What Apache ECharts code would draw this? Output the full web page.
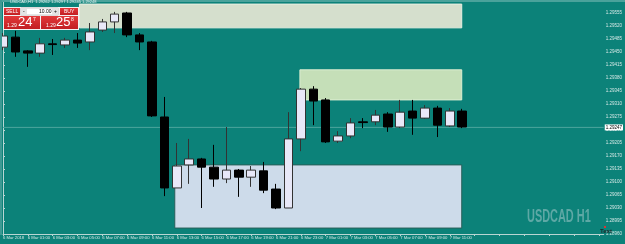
<!DOCTYPE html>
<html>
<head>
<meta charset="utf-8">
<script src="https://cdn.jsdelivr.net/npm/echarts@6/dist/echarts.min.js"></script>
<style>
  html, body { margin: 0; padding: 0; background: #0C8279; }
  #main { width: 625px; height: 244px; }
</style>
</head>
<body>
<div id="main"></div>
<script>
// подписи оси времени (каждая вторая свеча)
const tickLabels = ['6 Mar 2018', '6 Mar 01:00', '6 Mar 03:00', '6 Mar 05:00', '6 Mar 07:00',
  '6 Mar 09:00', '6 Mar 11:00', '6 Mar 13:00', '6 Mar 15:00', '6 Mar 17:00', '6 Mar 19:00',
  '6 Mar 21:00', '6 Mar 23:00', '7 Mar 01:00', '7 Mar 03:00', '7 Mar 05:00', '7 Mar 07:00',
  '7 Mar 09:00', '7 Mar 11:00'];

// свечи USDCAD H1
const opens = [1.29463, 1.29490, 1.29453, 1.29447, 1.29472, 1.29469, 1.29482, 1.29477, 1.29509, 1.29531,
  1.29555, 1.29496, 1.29477, 1.29275, 1.29084, 1.29146, 1.29162, 1.29140, 1.29108, 1.29132,
  1.29113, 1.29130, 1.29081, 1.29030, 1.29216, 1.29350, 1.29321, 1.29210, 1.29224, 1.29262,
  1.29262, 1.29283, 1.29248, 1.29291, 1.29272, 1.29299, 1.29251, 1.29291];
const closes = [1.29493, 1.29450, 1.29447, 1.29472, 1.29470, 1.29482, 1.29474, 1.29504, 1.29531, 1.29552,
  1.29496, 1.29477, 1.29278, 1.29084, 1.29143, 1.29162, 1.29140, 1.29108, 1.29132, 1.29113,
  1.29132, 1.29078, 1.29030, 1.29216, 1.29350, 1.29318, 1.29208, 1.29224, 1.29259, 1.29260,
  1.29280, 1.29248, 1.29288, 1.29272, 1.29299, 1.29253, 1.29291, 1.29248];
const lows = [1.29455, 1.29437, 1.29410, 1.29437, 1.29442, 1.29461, 1.29461, 1.29455, 1.29504, 1.29501,
  1.29490, 1.29455, 1.29275, 1.29062, 1.29084, 1.29095, 1.29030, 1.29087, 1.29097, 1.29060,
  1.29087, 1.29070, 1.29027, 1.29030, 1.29183, 1.29253, 1.29205, 1.29205, 1.29218, 1.29245,
  1.29253, 1.29235, 1.29245, 1.29227, 1.29270, 1.29221, 1.29248, 1.29245];
const highs = [1.29501, 1.29507, 1.29455, 1.29488, 1.29485, 1.29488, 1.29501, 1.29528, 1.29539, 1.29558,
  1.29558, 1.29501, 1.29480, 1.29329, 1.29205, 1.29216, 1.29165, 1.29200, 1.29248, 1.29135,
  1.29143, 1.29154, 1.29095, 1.29288, 1.29353, 1.29358, 1.29326, 1.29237, 1.29272, 1.29272,
  1.29294, 1.29288, 1.29321, 1.29321, 1.29307, 1.29305, 1.29299, 1.29297];

// прямоугольники-зоны (в единицах свечей и цены)
const zoneStart = [6.16, 23.92, 13.84];
const zoneEnd = [36.96, 36.96, 36.96];
const zoneTop = [1.29579, 1.29402, 1.29146];
const zoneBottom = [1.29515, 1.29321, 1.28976];
const zoneFill = ['#D5DFCD', '#C5DFB8', '#CDDBEA'];
const zoneStroke = ['#E9EFE2', '#DCEED2', '#2A5F5A'];

const bid = 1.29247;

let candles = [];
opens.forEach((o, i) => {
  candles.push([i, o, closes[i], lows[i], highs[i]]);
});
let zones = [];
zoneStart.forEach((x, i) => {
  zones.push([x, zoneEnd[i], zoneTop[i], zoneBottom[i]]);
});

let chart = echarts.init(document.getElementById('main'));

const red = {
  type: 'linear', x: 0, y: 0, x2: 0, y2: 1,
  colorStops: [{offset: 0, color: '#E2393A'}, {offset: 1, color: '#C21E22'}]
};

const option = {
  backgroundColor: '#0C8279',
  animation: false,
  grid: {left: 3, right: 17, top: 2, bottom: 10},
  xAxis: {
    type: 'value',
    min: 0,
    max: 48.4,
    interval: 2,
    splitLine: {show: false},
    axisLine: {lineStyle: {color: '#B9D6D3', width: 1}},
    axisTick: {show: true, length: 2, lineStyle: {color: '#B9D6D3'}},
    axisLabel: {
      showMinLabel: true,
      showMaxLabel: false,
      hideOverlap: false,
      align: 'left',
      margin: 2,
      fontSize: 4.2,
      fontFamily: 'Liberation Sans',
      color: '#D6E8E6',
      formatter: v => tickLabels[Math.round(v / 2)] || ''
    }
  },
  yAxis: {
    type: 'value',
    position: 'right',
    min: 1.28960,
    max: 1.295846,
    interval: 0.00035,
    scale: true,
    splitLine: {show: false},
    axisLine: {show: true, lineStyle: {color: '#B9D6D3', width: 1}},
    axisTick: {show: true, length: 2, lineStyle: {color: '#B9D6D3'}},
    axisLabel: {
      showMaxLabel: false,
      margin: 2,
      fontSize: 4.5,
      fontFamily: 'Liberation Sans',
      color: '#D6E8E6',
      formatter: v => v.toFixed(5)
    }
  },
  series: [
    {
      type: 'custom',
      z: 1,
      silent: true,
      data: zones,
      encode: {x: [0, 1], y: [2, 3]},
      renderItem: (params, api) => {
        const p0 = api.coord([api.value(0), api.value(2)]);
        const p1 = api.coord([api.value(1), api.value(3)]);
        return {
          type: 'rect',
          shape: {x: p0[0], y: p0[1], width: p1[0] - p0[0], height: p1[1] - p0[1]},
          style: {fill: zoneFill[params.dataIndex], stroke: zoneStroke[params.dataIndex], lineWidth: 1}
        };
      }
    },
    {
      // линия текущей цены bid
      type: 'line',
      z: 2,
      silent: true,
      symbol: 'none',
      data: [[0, bid], [48.4, bid]],
      lineStyle: {color: '#4CA59D', width: 1},
      endLabel: {
        show: true,
        distance: 1,
        formatter: bid.toFixed(5),
        backgroundColor: '#FFFFFF',
        color: '#000',
        fontSize: 4.5,
        fontFamily: 'Liberation Sans',
        padding: [1, 1, 0, 1]
      }
    },
    {
      type: 'candlestick',
      z: 3,
      clip: false,
      barWidth: 9,
      data: candles,
      encode: {x: 0, y: [1, 2, 3, 4]},
      itemStyle: {
        color: '#E8E8F8',
        color0: '#000000',
        borderColor: '#333333',
        borderColor0: '#000000',
        borderColorDoji: '#000000',
        borderWidth: 1
      }
    }
  ],
  graphic: [
    {type: 'rect', left: 0, top: 0, shape: {width: 625, height: 2}, style: {fill: '#4AA29B'}, z: 10},
    {type: 'rect', left: 0, top: 0, shape: {width: 2, height: 235}, style: {fill: '#3E9A93'}, z: 10},
    {type: 'text', left: 10, top: 0, z: 11,
      style: {text: 'USDCAD,H1  1.29262 1.29297 1.29245 1.29248', fill: '#E8F2F1', font: '4px Liberation Sans'}},
    // панель торговли в один клик
    {type: 'rect', shape: {x: 3, y: 7, width: 76, height: 23}, style: {fill: '#F2F2F2'}, z: 10},
    {type: 'rect', shape: {x: 4, y: 8, width: 16, height: 7}, style: {fill: red}, z: 11},
    {type: 'text', x: 6, y: 9, z: 12, style: {text: 'SELL', fill: '#fff', font: '5px Liberation Sans'}},
    {type: 'rect', shape: {x: 21, y: 8, width: 37, height: 7}, style: {fill: '#FFFFFF', stroke: '#999', lineWidth: 0.5}, z: 11},
    {type: 'rect', shape: {x: 21, y: 8, width: 6, height: 7}, style: {fill: '#E4E4E4'}, z: 11},
    {type: 'rect', shape: {x: 52, y: 8, width: 6, height: 7}, style: {fill: '#E4E4E4'}, z: 11},
    {type: 'text', x: 23, y: 9, z: 12, style: {text: '-', fill: '#000', font: '5px Liberation Sans'}},
    {type: 'text', x: 54, y: 9, z: 12, style: {text: '+', fill: '#000', font: '5px Liberation Sans'}},
    {type: 'text', x: 39, y: 9, z: 12, style: {text: '10.00', fill: '#000', font: '5px Liberation Sans'}},
    {type: 'rect', shape: {x: 60, y: 8, width: 18, height: 7}, style: {fill: red}, z: 11},
    {type: 'text', x: 64, y: 9, z: 12, style: {text: 'BUY', fill: '#fff', font: '5px Liberation Sans'}},
    {type: 'rect', shape: {x: 4, y: 16, width: 36, height: 13}, style: {fill: red}, z: 11},
    {type: 'rect', shape: {x: 41, y: 16, width: 37, height: 13}, style: {fill: red}, z: 11},
    {type: 'text', x: 7, y: 23, z: 12, style: {text: '1.29', fill: '#fff', font: '5px Liberation Sans'}},
    {type: 'text', x: 18, y: 16, z: 12, style: {text: '24', fill: '#fff', font: '13px Liberation Sans'}},
    {type: 'text', x: 33, y: 17, z: 12, style: {text: '7', fill: '#fff', font: '5px Liberation Sans'}},
    {type: 'text', x: 46, y: 23, z: 12, style: {text: '1.29', fill: '#fff', font: '5px Liberation Sans'}},
    {type: 'text', x: 56, y: 16, z: 12, style: {text: '25', fill: '#fff', font: '13px Liberation Sans'}},
    {type: 'text', x: 71, y: 17, z: 12, style: {text: '8', fill: '#fff', font: '5px Liberation Sans'}},
    // водяной знак
    {type: 'text', x: 527, y: 207, scaleX: 0.78, scaleY: 1.35, z: 0,
      style: {text: 'USDCAD H1', fill: '#5EA8A5', font: 'bold 14px Liberation Sans'}},
    {type: 'text', x: 600, y: 228, z: 12, style: {text: 'Text', fill: '#1E2A2A', font: 'bold 6px Liberation Sans'}},
    {type: 'rect', shape: {x: 604, y: 226, width: 2, height: 2}, style: {fill: '#D33'}, z: 12}
  ]
};

chart.setOption(option);
</script>
</body>
</html>
